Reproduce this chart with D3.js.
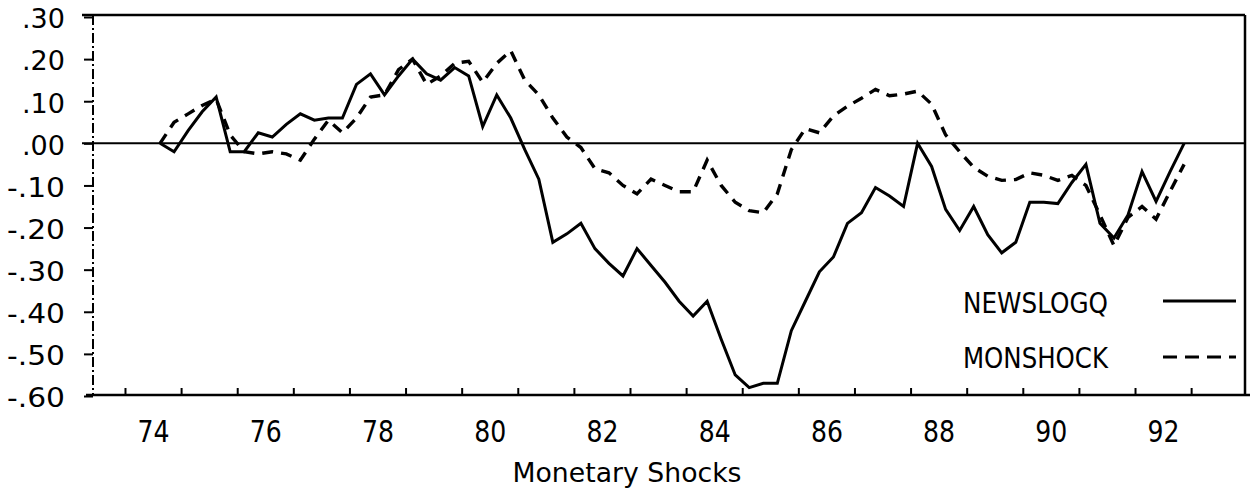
<!DOCTYPE html>
<html>
<head>
<meta charset="utf-8">
<script src="https://cdn.jsdelivr.net/npm/d3@7"></script>
<style>
  html, body { margin: 0; padding: 0; background: #fff; }
  svg { display: block; }
  text { font-family: 'DejaVu Sans', sans-serif; fill: #000; }
</style>
</head>
<body>
<svg id="chart" width="1253" height="493"></svg>
<script>
'use strict';

/* global d3 */

// quarterly, 1974:1 .. 1992:2
var startYear = 74;
var nQuarters = 74;

var yTicks = [0.3, 0.2, 0.1, 0, -0.1, -0.2, -0.3, -0.4, -0.5, -0.6];
var xLabelYears = [74, 76, 78, 80, 82, 84, 86, 88, 90, 92];
var xMinorTicks = [73.5, 74.5, 75.5, 76.5, 77.5, 78.5, 79.5, 80.5, 81.5, 82.5, 83.5,
  84.5, 85.5, 86.5, 87.5, 88.5, 89.5, 90.5, 91.5, 92.5];

var newslogq = [
  0.00, -0.02, 0.03, 0.075, 0.11, -0.02, -0.02, 0.025, 0.015, 0.045,
  0.07, 0.055, 0.06, 0.06, 0.14, 0.165, 0.115, 0.16, 0.20, 0.165,
  0.15, 0.18, 0.16, 0.04, 0.115, 0.06, -0.015, -0.085, -0.235, -0.215,
  -0.19, -0.25, -0.285, -0.315, -0.25, -0.29, -0.33, -0.375, -0.41, -0.375,
  -0.465, -0.55, -0.58, -0.57, -0.57, -0.445, -0.375, -0.305, -0.27, -0.19,
  -0.165, -0.105, -0.125, -0.15, 0.00, -0.055, -0.157, -0.207, -0.15, -0.217,
  -0.26, -0.235, -0.14, -0.14, -0.143, -0.093, -0.05, -0.19, -0.225, -0.17,
  -0.067, -0.138, -0.067, 0.00
];

var monshock = [
  0.00, 0.05, 0.07, 0.09, 0.105, 0.02, -0.02, -0.025, -0.02, -0.025,
  -0.04, 0.01, 0.055, 0.025, 0.06, 0.11, 0.115, 0.175, 0.20, 0.14,
  0.16, 0.19, 0.195, 0.145, 0.19, 0.22, 0.15, 0.115, 0.06, 0.015,
  -0.01, -0.06, -0.07, -0.10, -0.12, -0.085, -0.10, -0.115, -0.115, -0.04,
  -0.10, -0.14, -0.16, -0.165, -0.12, -0.015, 0.035, 0.025, 0.065, 0.088,
  0.107, 0.128, 0.113, 0.117, 0.124, 0.093, 0.02, -0.02, -0.057, -0.078,
  -0.088, -0.086, -0.07, -0.076, -0.088, -0.076, -0.10, -0.17, -0.243, -0.176,
  -0.15, -0.18, -0.114, -0.05
];

var seriesNames = ['NEWSLOGQ', 'MONSHOCK'];

// plot box
var box = { left: 93, right: 1245, top: 15, bottom: 395 };

var svg = d3.select('#chart');

// quarter midpoints along the time axis
var quarterTimes = d3.range(nQuarters).map(function(i) { return startYear + 0.125 + i * 0.25; });

var x = d3.scaleLinear().domain([72.93, 93.46]).range([box.left, box.right]);
var y = d3.scaleLinear().domain([-0.6, 0.3]).range([box.bottom + 1, box.top + 2]);

// frame
svg.append('line')
  .attr('x1', 82).attr('x2', box.right)
  .attr('y1', box.top).attr('y2', box.top)
  .style('stroke', '#000').style('stroke-width', 2.5);
svg.append('line')
  .attr('x1', box.right).attr('x2', box.right)
  .attr('y1', box.top).attr('y2', box.bottom)
  .style('stroke', '#000').style('stroke-width', 2.5);
svg.append('line')
  .attr('x1', 86).attr('x2', 1250)
  .attr('y1', box.bottom).attr('y2', box.bottom)
  .style('stroke', '#000').style('stroke-width', 2.5);
// dash-dot y axis line
svg.append('line')
  .attr('x1', box.left).attr('x2', box.left)
  .attr('y1', box.top).attr('y2', box.bottom)
  .style('stroke', '#000').style('stroke-width', 2)
  .style('stroke-dasharray', '10,3,2,3');

// zero line
svg.append('line')
  .attr('x1', 82).attr('x2', box.right)
  .attr('y1', y(0)).attr('y2', y(0))
  .style('stroke', '#000').style('stroke-width', 2);

// y axis ticks + labels
var yAxis = d3.axisLeft(y)
  .tickValues(yTicks)
  .tickSize(9)
  .tickPadding(19)
  .tickFormat(function(d) {
    var s = Math.abs(d).toFixed(2).replace(/^0/, '');
    return (d < -1e-9 ? '-' : '') + s;
  });

var gy = svg.append('g')
  .attr('transform', 'translate(' + box.left + ',0)')
  .call(yAxis);
gy.select('.domain').remove();
gy.selectAll('.tick line').style('stroke', '#000').style('stroke-width', 2);
gy.selectAll('.tick text')
  .attr('dy', '0.40em')
  .style('font-size', '27px')
  .style('font-family', "'DejaVu Sans', sans-serif")
  .attr('textLength', function(d) { return d < -1e-9 ? 58 : 43; })
  .attr('lengthAdjust', 'spacingAndGlyphs');

// x axis labels
var xAxis = d3.axisBottom(x)
  .tickValues(xLabelYears)
  .tickSize(0)
  .tickPadding(25)
  .tickFormat(function(d) { return String(d); });

var gx = svg.append('g')
  .attr('transform', 'translate(0,' + box.bottom + ')')
  .call(xAxis);
gx.select('.domain').remove();
gx.selectAll('.tick text')
  .style('font-size', '31px')
  .style('font-family', "'DejaVu Sans', sans-serif")
  .attr('textLength', 32)
  .attr('lengthAdjust', 'spacingAndGlyphs');

// small inward ticks on the bottom axis
var xMinor = d3.axisBottom(x)
  .tickValues(xMinorTicks)
  .tickSizeInner(-7)
  .tickSizeOuter(0)
  .tickFormat('');

var gxm = svg.append('g')
  .attr('transform', 'translate(0,' + box.bottom + ')')
  .call(xMinor);
gxm.select('.domain').remove();
gxm.selectAll('.tick line').style('stroke', '#000').style('stroke-width', 2);

// x axis title
svg.append('text')
  .attr('x', 627)
  .attr('y', 482)
  .attr('text-anchor', 'middle')
  .attr('textLength', 229)
  .attr('lengthAdjust', 'spacingAndGlyphs')
  .style('font-size', '27px')
  .text('Monetary Shocks');

// series
var line = d3.line()
  .x(function(d, i) { return x(quarterTimes[i]); })
  .y(function(d) { return y(d); });

svg.append('path')
  .datum(monshock)
  .attr('d', line)
  .style('fill', 'none')
  .style('stroke', '#000')
  .style('stroke-width', 3.4)
  .style('stroke-dasharray', '11,8');

svg.append('path')
  .datum(newslogq)
  .attr('d', line)
  .style('fill', 'none')
  .style('stroke', '#000')
  .style('stroke-width', 3)
  .style('stroke-linejoin', 'miter');

// legend
var legendRows = [
  { name: seriesNames[0], baseline: 313, lineY: 301, dash: null },
  { name: seriesNames[1], baseline: 368, lineY: 357, dash: '14,8' }
];

var legend = svg.append('g');
legendRows.forEach(function(r) {
  legend.append('text')
    .attr('x', 963)
    .attr('y', r.baseline)
    .attr('textLength', 145)
    .attr('lengthAdjust', 'spacingAndGlyphs')
    .style('font-size', '29px')
    .text(r.name);
  legend.append('line')
    .attr('x1', 1163).attr('x2', 1236)
    .attr('y1', r.lineY).attr('y2', r.lineY)
    .style('stroke', '#000')
    .style('stroke-width', 3)
    .style('stroke-dasharray', r.dash);
});
</script>
</body>
</html>
